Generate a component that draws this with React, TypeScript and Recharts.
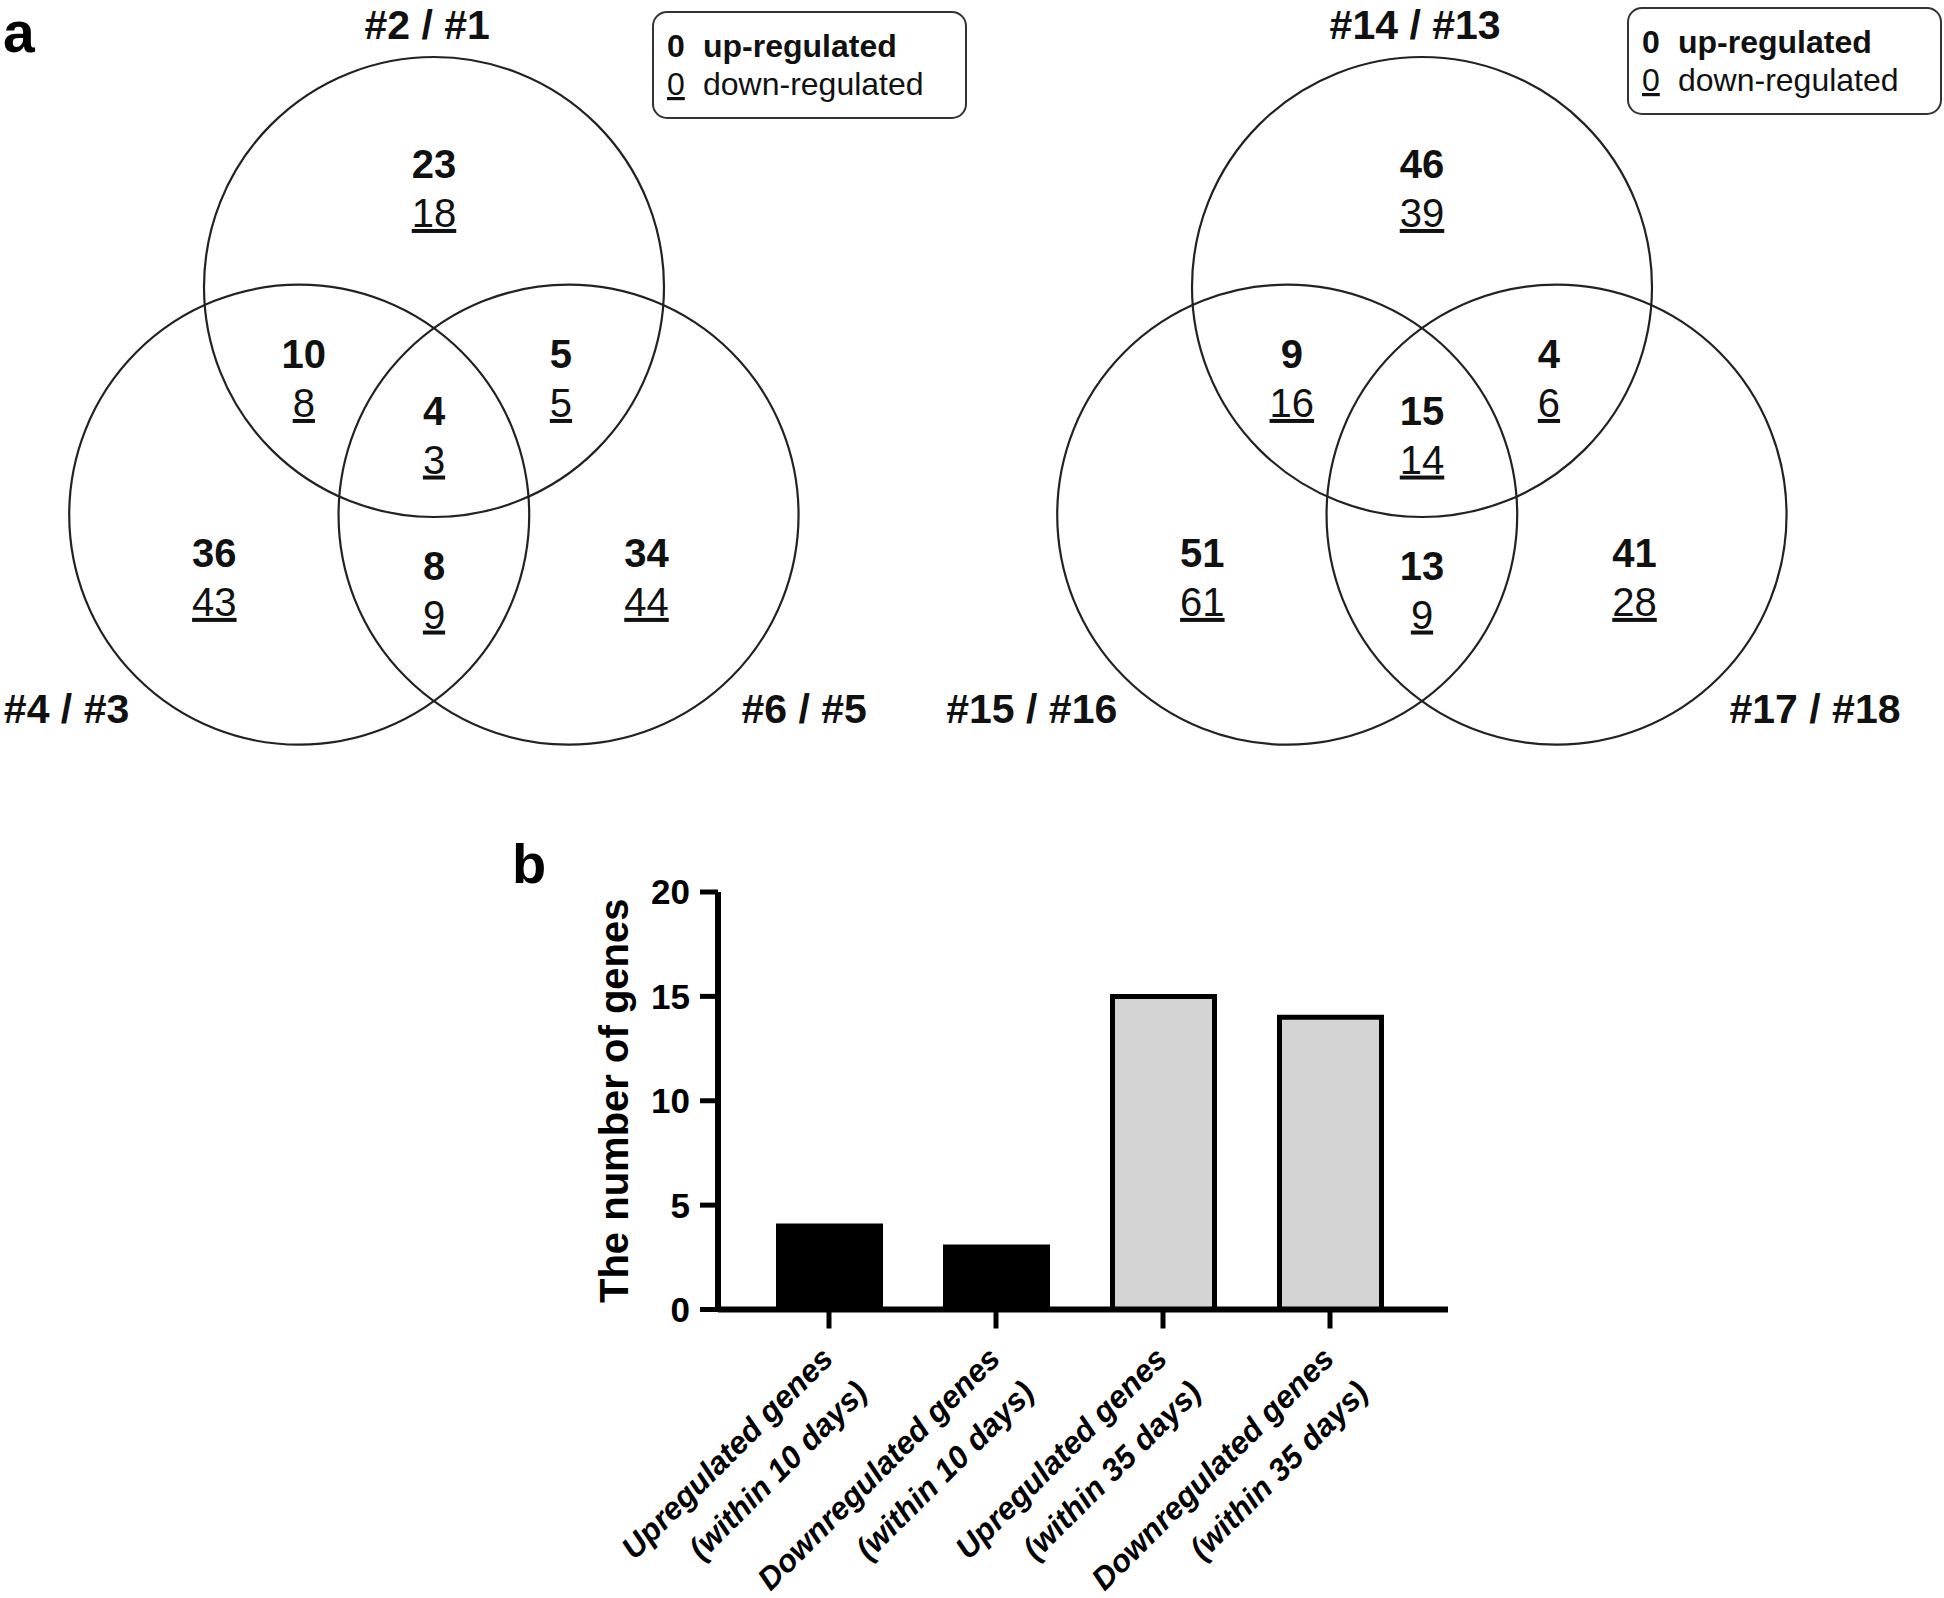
import React from 'react';
import { ScatterChart, Scatter, XAxis, YAxis, Legend, BarChart, Bar, Cell } from 'recharts';

const FONT = '"Liberation Sans", Arial, Helvetica, sans-serif';

// ---- panel a: three-set Venn diagrams ----
// region order: top only, top+left, top+right, all three, left only, left+right, right only
const regionNames = ['top', 'top+left', 'top+right', 'all', 'left', 'left+right', 'right'];
const up10 = [23, 10, 5, 4, 36, 8, 34];
const down10 = [18, 8, 5, 3, 43, 9, 44];
const up35 = [46, 9, 4, 15, 51, 13, 41];
const down35 = [39, 16, 6, 14, 61, 9, 28];
const sets10 = ['#2 / #1', '#4 / #3', '#6 / #5'];
const sets35 = ['#14 / #13', '#15 / #16', '#17 / #18'];

// diagram geometry in circle-radius units, top circle centred on (0, 0)
const circleX = [0, -0.586, 0.585];
const circleY = [0, -0.99, -0.99];
const regionX = [0, -0.566, 0.552, 0, -0.955, 0, 0.924];
const regionY = [0.474, -0.352, -0.352, -0.598, -1.217, -1.272, -1.217];
const setX = [-0.03, -1.325, 1.337];
const setY = [1.078, -1.896, -1.896];

// ---- panel b: genes shared by all three comparisons ----
const barLine1 = ['Upregulated genes', 'Downregulated genes', 'Upregulated genes', 'Downregulated genes'];
const barLine2 = ['(within 10 days)', '(within 10 days)', '(within 35 days)', '(within 35 days)'];
const barPeriod = ['10 days', '10 days', '35 days', '35 days'];
const barValues = [4, 3, 15, 14];
const yTicks = [0, 5, 10, 15, 20];

const V_H = 780;
const UNIT = 230;
const ORIGIN_Y = 287;

const VennLegend = () => (
  <svg width={317} height={110} style={{ display: 'block' }}>
    <rect x={1} y={1} width={313} height={106} rx={14} fill="#fff" stroke="#333" strokeWidth={2} />
    <g fontFamily={FONT} fontSize={32} fill="#111">
      <text x={15} y={46} fontWeight="bold">0</text>
      <text x={51} y={46} fontWeight="bold">up-regulated</text>
      <text x={15} y={84} style={{ textDecoration: 'underline' }}>0</text>
      <text x={51} y={84}>down-regulated</text>
    </g>
  </svg>
);

const RegionLabel = (p: any) => (
  <g>
    <text x={p.cx} y={p.cy} textAnchor="middle" fontFamily={FONT} fontSize={40} fontWeight="bold" fill="#111">
      {p.payload.up}
    </text>
    <text x={p.cx} y={p.cy + 49} textAnchor="middle" fontFamily={FONT} fontSize={40} fill="#111" style={{ textDecoration: 'underline' }}>
      {p.payload.down}
    </text>
  </g>
);

const SetLabel = (p: any) => (
  <text x={p.cx} y={p.cy} textAnchor={p.payload.anchor} fontFamily={FONT} fontSize={41} fontWeight="bold" fill="#111">
    {p.payload.name}
  </text>
);

function Venn({ chartLeft, chartWidth, centerX, sets, up, down, legendLeft, legendTop }: any) {
  const originX = centerX - chartLeft;
  const vx: [number, number] = [-originX / UNIT, (chartWidth - originX) / UNIT];
  const vy: [number, number] = [-(V_H - ORIGIN_Y) / UNIT, ORIGIN_Y / UNIT];
  const pxPerUnit = chartWidth / (vx[1] - vx[0]);
  const circles = circleX.map((x, i) => ({ x, y: circleY[i], r: 1 }));
  const regions = regionNames.map((name, i) => ({ name, x: regionX[i], y: regionY[i], up: up[i], down: down[i] }));
  const setLabels = sets.map((name: string, i: number) => ({
    name,
    x: setX[i],
    y: setY[i],
    anchor: i === 0 ? 'middle' : i === 1 ? 'end' : 'start',
  }));
  const CircleShape = (p: any) => (
    <circle cx={p.cx} cy={p.cy} r={p.payload.r * pxPerUnit} fill="none" stroke="#222" strokeWidth={2.2} />
  );
  return (
    <div style={{ position: 'absolute', left: chartLeft, top: 0 }}>
      <ScatterChart width={chartWidth} height={V_H} margin={{ top: 0, right: 0, bottom: 0, left: 0 }}>
        <XAxis type="number" dataKey="x" domain={vx} hide allowDataOverflow height={0} />
        <YAxis type="number" dataKey="y" domain={vy} hide allowDataOverflow width={0} />
        <Scatter data={circles} shape={CircleShape} isAnimationActive={false} />
        <Scatter data={regions} shape={RegionLabel} isAnimationActive={false} />
        <Scatter data={setLabels} shape={SetLabel} isAnimationActive={false} />
        <Legend
          layout="vertical"
          verticalAlign="middle"
          align="center"
          wrapperStyle={{ left: legendLeft, top: legendTop, width: 317, height: 110 }}
          content={() => <VennLegend />}
        />
      </ScatterChart>
    </div>
  );
}

const barData = barValues.map((value, i) => ({
  name: `${barLine1[i]} ${barLine2[i]}`,
  value,
  line1: barLine1[i],
  line2: barLine2[i],
  period: barPeriod[i],
}));

const XTick = ({ x, y, payload }: any) => {
  const d = barData.find((b) => b.name === payload.value) || barData[0];
  return (
    <g transform={`translate(${x + 6},${y + 30}) rotate(-45)`}>
      <text textAnchor="end" fontFamily={FONT} fontSize={31.5} fontWeight="bold" fontStyle="italic" fill="#000">
        <tspan x={0} y={0}>{d.line1}</tspan>
        <tspan x={0} y={48}>{d.line2}</tspan>
      </text>
    </g>
  );
};

const YLabel = (props: any) => {
  const vb = props.viewBox;
  const cx = vb.x + vb.width - 90;
  const cy = vb.y + vb.height / 2;
  return (
    <text x={cx} y={cy} transform={`rotate(-90 ${cx} ${cy})`} textAnchor="middle" fontFamily={FONT} fontSize={40} fontWeight="bold" fill="#000">
      The number of genes
    </text>
  );
};

const GeneBars = () => (
  <div style={{ position: 'absolute', left: 460, top: 850 }}>
    <BarChart width={1040} height={748} data={barData} margin={{ top: 42, right: 52, bottom: 8.5, left: 138 }}>
      <XAxis
        dataKey="name"
        interval={0}
        height={280}
        tick={<XTick />}
        tickSize={19}
        padding={{ left: 27.5, right: 34.5 }}
        axisLine={{ stroke: '#000', strokeWidth: 6 }}
        tickLine={{ stroke: '#000', strokeWidth: 5 }}
      />
      <YAxis
        type="number"
        domain={[0, 20]}
        ticks={yTicks}
        width={120}
        tickSize={18}
        tickMargin={10}
        axisLine={{ stroke: '#000', strokeWidth: 6 }}
        tickLine={{ stroke: '#000', strokeWidth: 5 }}
        tick={{ fontSize: 35, fontWeight: 'bold', fill: '#000', fontFamily: FONT }}
        label={{ content: YLabel }}
      />
      <Bar dataKey="value" barSize={102} stroke="#000" strokeWidth={5} isAnimationActive={false}>
        {barData.map((d) => (
          <Cell key={d.name} fill={d.period === '10 days' ? '#000000' : '#d4d4d4'} />
        ))}
      </Bar>
    </BarChart>
  </div>
);

const PanelLetter = ({ x, y, size, children }: any) => (
  <svg width={80} height={80} style={{ position: 'absolute', left: x, top: y - 52 }}>
    <text x={0} y={52} fontFamily={FONT} fontSize={size} fontWeight="bold" fill="#000">
      {children}
    </text>
  </svg>
);

export default function App() {
  return (
    <div style={{ position: 'absolute', left: 0, top: 0, width: 1944, height: 1598, background: '#fff', overflow: 'hidden' }}>
      <Venn chartLeft={0} chartWidth={922} centerX={434} sets={sets10} up={up10} down={down10} legendLeft={652} legendTop={11} />
      <Venn chartLeft={922} chartWidth={1022} centerX={1422} sets={sets35} up={up35} down={down35} legendLeft={705} legendTop={7} />
      <GeneBars />
      <PanelLetter x={3} y={52} size={57}>a</PanelLetter>
      <PanelLetter x={512} y={883} size={56}>b</PanelLetter>
    </div>
  );
}
